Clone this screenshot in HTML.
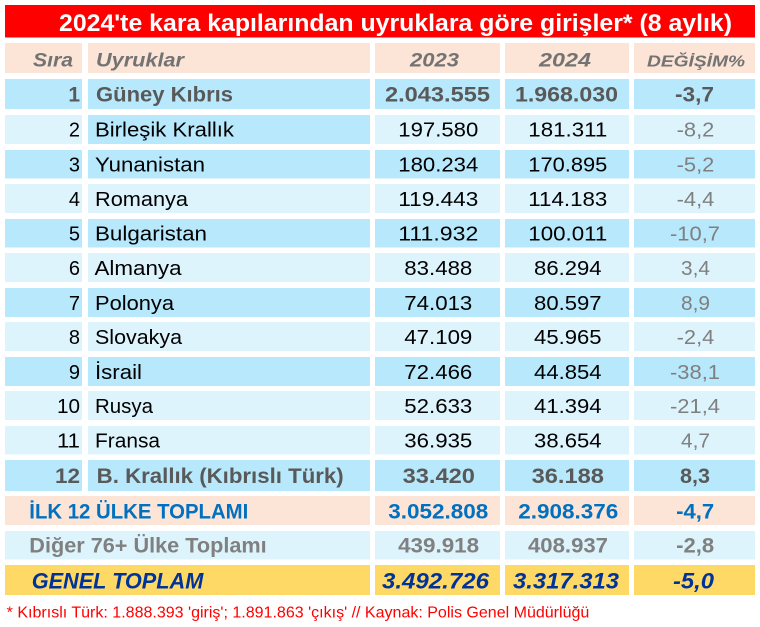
<!DOCTYPE html>
<html>
<head>
<meta charset="utf-8">
<style>
  html,body{margin:0;padding:0;background:#fff;}
  svg{display:block;}
  text{font-family:"Liberation Sans",Arial,sans-serif;}
</style>
</head>
<body>
<svg width="760" height="627" viewBox="0 0 760 627" xmlns="http://www.w3.org/2000/svg">
  <rect x="0" y="0" width="760" height="627" fill="#ffffff"/>
  <!-- Title -->
  <rect x="5" y="5" width="750" height="32.5" fill="#ff0000"/>
  <text x="395.5" y="31" font-size="24" font-weight="bold" fill="#ffffff" text-anchor="middle" textLength="673" lengthAdjust="spacingAndGlyphs">2024'te kara kapılarından uyruklara göre girişler* (8 aylık)</text>

  <!-- Header -->
  <g fill="#fce4d6">
    <rect x="5" y="43" width="77" height="30"/>
    <rect x="88" y="43" width="282" height="30"/>
    <rect x="375" y="43" width="125" height="30"/>
    <rect x="505" y="43" width="124" height="30"/>
    <rect x="634" y="43" width="121" height="30"/>
  </g>
  <g fill="#737373" font-weight="bold" font-style="italic">
    <text x="73" y="66.5" font-size="19.5" text-anchor="end" textLength="40" lengthAdjust="spacingAndGlyphs">Sıra</text>
    <text x="96" y="66.5" font-size="19.5" textLength="88" lengthAdjust="spacingAndGlyphs">Uyruklar</text>
    <text x="434.5" y="66.5" font-size="19.5" text-anchor="middle" textLength="49" lengthAdjust="spacingAndGlyphs">2023</text>
    <text x="565" y="66.5" font-size="19.5" text-anchor="middle" textLength="52" lengthAdjust="spacingAndGlyphs">2024</text>
    <text x="696" y="66.5" font-size="16" text-anchor="middle" textLength="98" lengthAdjust="spacingAndGlyphs">DEĞİŞİM%</text>
  </g>

  <!-- Row fills -->
  <!-- Row1 dark -->
  <g fill="#b7e8fb">
    <rect x="5" y="79" width="77" height="30"/><rect x="88" y="79" width="282" height="30"/><rect x="375" y="79" width="125" height="30"/><rect x="505" y="79" width="124" height="30"/><rect x="634" y="79" width="121" height="30"/>
  </g>
  <!-- Row2: c2 dark, others light -->
  <g fill="#ddf4fd">
    <rect x="5" y="115" width="77" height="29"/><rect x="375" y="115" width="125" height="29"/><rect x="505" y="115" width="124" height="29"/><rect x="634" y="115" width="121" height="29"/>
  </g>
  <rect x="88" y="115" width="282" height="29" fill="#b7e8fb"/>
  <!-- Row3 dark -->
  <g fill="#b7e8fb">
    <rect x="5" y="150" width="77" height="28.5"/><rect x="88" y="150" width="282" height="28.5"/><rect x="375" y="150" width="125" height="28.5"/><rect x="505" y="150" width="124" height="28.5"/><rect x="634" y="150" width="121" height="28.5"/>
  </g>
  <!-- Row4 light -->
  <g fill="#ddf4fd">
    <rect x="5" y="184" width="77" height="29"/><rect x="88" y="184" width="282" height="29"/><rect x="375" y="184" width="125" height="29"/><rect x="505" y="184" width="124" height="29"/><rect x="634" y="184" width="121" height="29"/>
  </g>
  <!-- Row5 dark -->
  <g fill="#b7e8fb">
    <rect x="5" y="219" width="77" height="28.5"/><rect x="88" y="219" width="282" height="28.5"/><rect x="375" y="219" width="125" height="28.5"/><rect x="505" y="219" width="124" height="28.5"/><rect x="634" y="219" width="121" height="28.5"/>
  </g>
  <!-- Row6 light -->
  <g fill="#ddf4fd">
    <rect x="5" y="253" width="77" height="29"/><rect x="88" y="253" width="282" height="29"/><rect x="375" y="253" width="125" height="29"/><rect x="505" y="253" width="124" height="29"/><rect x="634" y="253" width="121" height="29"/>
  </g>
  <!-- Row7 dark -->
  <g fill="#b7e8fb">
    <rect x="5" y="288" width="77" height="29"/><rect x="88" y="288" width="282" height="29"/><rect x="375" y="288" width="125" height="29"/><rect x="505" y="288" width="124" height="29"/><rect x="634" y="288" width="121" height="29"/>
  </g>
  <!-- Row8 light -->
  <g fill="#ddf4fd">
    <rect x="5" y="322" width="77" height="29"/><rect x="88" y="322" width="282" height="29"/><rect x="375" y="322" width="125" height="29"/><rect x="505" y="322" width="124" height="29"/><rect x="634" y="322" width="121" height="29"/>
  </g>
  <!-- Row9 dark -->
  <g fill="#b7e8fb">
    <rect x="5" y="357" width="77" height="29"/><rect x="88" y="357" width="282" height="29"/><rect x="375" y="357" width="125" height="29"/><rect x="505" y="357" width="124" height="29"/><rect x="634" y="357" width="121" height="29"/>
  </g>
  <!-- Row10 light -->
  <g fill="#ddf4fd">
    <rect x="5" y="391" width="77" height="29"/><rect x="88" y="391" width="282" height="29"/><rect x="375" y="391" width="125" height="29"/><rect x="505" y="391" width="124" height="29"/><rect x="634" y="391" width="121" height="29"/>
  </g>
  <!-- Row11 light -->
  <g fill="#ddf4fd">
    <rect x="5" y="426" width="77" height="28.5"/><rect x="88" y="426" width="282" height="28.5"/><rect x="375" y="426" width="125" height="28.5"/><rect x="505" y="426" width="124" height="28.5"/><rect x="634" y="426" width="121" height="28.5"/>
  </g>
  <!-- Row12 dark -->
  <g fill="#b7e8fb">
    <rect x="5" y="460" width="77" height="31"/><rect x="88" y="460" width="282" height="31"/><rect x="375" y="460" width="125" height="31"/><rect x="505" y="460" width="124" height="31"/><rect x="634" y="460" width="121" height="31"/>
  </g>
  <!-- ILK peach -->
  <g fill="#fce4d6">
    <rect x="5" y="496" width="365" height="29"/><rect x="375" y="496" width="125" height="29"/><rect x="505" y="496" width="124" height="29"/><rect x="634" y="496" width="121" height="29"/>
  </g>
  <!-- Diğer light -->
  <g fill="#ddf4fd">
    <rect x="5" y="531" width="365" height="28.5"/><rect x="375" y="531" width="125" height="28.5"/><rect x="505" y="531" width="124" height="28.5"/><rect x="634" y="531" width="121" height="28.5"/>
  </g>
  <!-- GENEL gold -->
  <g fill="#ffd966">
    <rect x="5" y="565" width="365" height="30"/><rect x="375" y="565" width="125" height="30"/><rect x="505" y="565" width="124" height="30"/><rect x="634" y="565" width="121" height="30"/>
  </g>

  <!-- Row 1 (bold gray) -->
  <g fill="#595959" font-weight="bold" font-size="21">
    <text x="80" y="101.5" text-anchor="end">1</text>
    <text x="96" y="101.5" textLength="137" lengthAdjust="spacingAndGlyphs">Güney Kıbrıs</text>
    <text x="437.5" y="101.5" text-anchor="middle" textLength="105" lengthAdjust="spacingAndGlyphs">2.043.555</text>
    <text x="566.5" y="101.5" text-anchor="middle" textLength="103" lengthAdjust="spacingAndGlyphs">1.968.030</text>
    <text x="694.5" y="101.5" text-anchor="middle" textLength="39" lengthAdjust="spacingAndGlyphs">-3,7</text>
  </g>

  <!-- Rows 2-11 normal -->
  <g fill="#000000" font-size="20">
    <text x="80" y="136.5" text-anchor="end">2</text>
    <text x="95" y="136.5" textLength="139" lengthAdjust="spacingAndGlyphs">Birleşik Krallık</text>
    <text x="438.3" y="136.5" text-anchor="middle" textLength="80" lengthAdjust="spacingAndGlyphs">197.580</text>
    <text x="567.8" y="136.5" text-anchor="middle" textLength="79" lengthAdjust="spacingAndGlyphs">181.311</text>

    <text x="80" y="171.5" text-anchor="end">3</text>
    <text x="95" y="171.5" textLength="110" lengthAdjust="spacingAndGlyphs">Yunanistan</text>
    <text x="438.3" y="171.5" text-anchor="middle" textLength="80" lengthAdjust="spacingAndGlyphs">180.234</text>
    <text x="567.8" y="171.5" text-anchor="middle" textLength="79" lengthAdjust="spacingAndGlyphs">170.895</text>

    <text x="80" y="206" text-anchor="end">4</text>
    <text x="95" y="206" textLength="93" lengthAdjust="spacingAndGlyphs">Romanya</text>
    <text x="438.3" y="206" text-anchor="middle" textLength="80" lengthAdjust="spacingAndGlyphs">119.443</text>
    <text x="567.8" y="206" text-anchor="middle" textLength="79" lengthAdjust="spacingAndGlyphs">114.183</text>

    <text x="80" y="240.5" text-anchor="end">5</text>
    <text x="95" y="240.5" textLength="112" lengthAdjust="spacingAndGlyphs">Bulgaristan</text>
    <text x="438.3" y="240.5" text-anchor="middle" textLength="80" lengthAdjust="spacingAndGlyphs">111.932</text>
    <text x="567.8" y="240.5" text-anchor="middle" textLength="79" lengthAdjust="spacingAndGlyphs">100.011</text>

    <text x="80" y="275" text-anchor="end">6</text>
    <text x="94.5" y="275" textLength="87" lengthAdjust="spacingAndGlyphs">Almanya</text>
    <text x="438.3" y="275" text-anchor="middle" textLength="68" lengthAdjust="spacingAndGlyphs">83.488</text>
    <text x="567.8" y="275" text-anchor="middle" textLength="67.5" lengthAdjust="spacingAndGlyphs">86.294</text>

    <text x="80" y="310" text-anchor="end">7</text>
    <text x="95" y="310" textLength="79" lengthAdjust="spacingAndGlyphs">Polonya</text>
    <text x="438.3" y="310" text-anchor="middle" textLength="68" lengthAdjust="spacingAndGlyphs">74.013</text>
    <text x="567.8" y="310" text-anchor="middle" textLength="67.5" lengthAdjust="spacingAndGlyphs">80.597</text>

    <text x="80" y="344" text-anchor="end">8</text>
    <text x="95" y="344" textLength="87" lengthAdjust="spacingAndGlyphs">Slovakya</text>
    <text x="438.3" y="344" text-anchor="middle" textLength="68" lengthAdjust="spacingAndGlyphs">47.109</text>
    <text x="567.8" y="344" text-anchor="middle" textLength="67.5" lengthAdjust="spacingAndGlyphs">45.965</text>

    <text x="80" y="379" text-anchor="end">9</text>
    <text x="95" y="379" textLength="47" lengthAdjust="spacingAndGlyphs">İsrail</text>
    <text x="438.3" y="379" text-anchor="middle" textLength="68" lengthAdjust="spacingAndGlyphs">72.466</text>
    <text x="567.8" y="379" text-anchor="middle" textLength="67.5" lengthAdjust="spacingAndGlyphs">44.854</text>

    <text x="80" y="413" text-anchor="end" textLength="23" lengthAdjust="spacingAndGlyphs">10</text>
    <text x="95" y="413" textLength="58" lengthAdjust="spacingAndGlyphs">Rusya</text>
    <text x="438.3" y="413" text-anchor="middle" textLength="68" lengthAdjust="spacingAndGlyphs">52.633</text>
    <text x="567.8" y="413" text-anchor="middle" textLength="67.5" lengthAdjust="spacingAndGlyphs">41.394</text>

    <text x="80" y="447.5" text-anchor="end" textLength="23" lengthAdjust="spacingAndGlyphs">11</text>
    <text x="95" y="447.5" textLength="65" lengthAdjust="spacingAndGlyphs">Fransa</text>
    <text x="438.3" y="447.5" text-anchor="middle" textLength="68" lengthAdjust="spacingAndGlyphs">36.935</text>
    <text x="567.8" y="447.5" text-anchor="middle" textLength="67.5" lengthAdjust="spacingAndGlyphs">38.654</text>
  </g>

  <!-- Change column rows 2-11 (gray) -->
  <g fill="#7f7f7f" font-size="20" text-anchor="middle">
    <text x="695.5" y="136.5" textLength="37.7" lengthAdjust="spacingAndGlyphs">-8,2</text>
    <text x="695.5" y="171.5" textLength="37.7" lengthAdjust="spacingAndGlyphs">-5,2</text>
    <text x="695.5" y="206" textLength="37.7" lengthAdjust="spacingAndGlyphs">-4,4</text>
    <text x="695" y="240.5" textLength="50" lengthAdjust="spacingAndGlyphs">-10,7</text>
    <text x="695.5" y="275" textLength="29" lengthAdjust="spacingAndGlyphs">3,4</text>
    <text x="695.5" y="310" textLength="29" lengthAdjust="spacingAndGlyphs">8,9</text>
    <text x="695.5" y="344" textLength="37.7" lengthAdjust="spacingAndGlyphs">-2,4</text>
    <text x="695" y="379" textLength="50" lengthAdjust="spacingAndGlyphs">-38,1</text>
    <text x="695" y="413" textLength="50" lengthAdjust="spacingAndGlyphs">-21,4</text>
    <text x="695.5" y="447.5" textLength="29" lengthAdjust="spacingAndGlyphs">4,7</text>
  </g>

  <!-- Row 12 (bold gray) -->
  <g fill="#595959" font-weight="bold" font-size="21">
    <text x="80" y="483" text-anchor="end" textLength="25" lengthAdjust="spacingAndGlyphs">12</text>
    <text x="96.7" y="483" textLength="247" lengthAdjust="spacingAndGlyphs">B. Krallık (Kıbrıslı Türk)</text>
    <text x="438.8" y="483" text-anchor="middle" textLength="72.3" lengthAdjust="spacingAndGlyphs">33.420</text>
    <text x="567.8" y="483" text-anchor="middle" textLength="72.3" lengthAdjust="spacingAndGlyphs">36.188</text>
    <text x="695" y="483" text-anchor="middle" textLength="30" lengthAdjust="spacingAndGlyphs">8,3</text>
  </g>

  <!-- ILK 12 -->
  <g fill="#0070c0" font-weight="bold" font-size="21">
    <text x="29.3" y="518.3" textLength="219" lengthAdjust="spacingAndGlyphs">İLK 12 ÜLKE TOPLAMI</text>
    <text x="438.3" y="518.3" text-anchor="middle" textLength="100" lengthAdjust="spacingAndGlyphs">3.052.808</text>
    <text x="568.3" y="518.3" text-anchor="middle" textLength="100" lengthAdjust="spacingAndGlyphs">2.908.376</text>
    <text x="695.2" y="518.3" text-anchor="middle" textLength="38" lengthAdjust="spacingAndGlyphs">-4,7</text>
  </g>

  <!-- Diğer -->
  <g fill="#808080" font-weight="bold" font-size="21">
    <text x="29.3" y="552.7" textLength="237.4" lengthAdjust="spacingAndGlyphs">Diğer 76+ Ülke Toplamı</text>
    <text x="438.6" y="552.7" text-anchor="middle" textLength="81" lengthAdjust="spacingAndGlyphs">439.918</text>
    <text x="568" y="552.7" text-anchor="middle" textLength="80" lengthAdjust="spacingAndGlyphs">408.937</text>
    <text x="695.2" y="552.7" text-anchor="middle" textLength="38" lengthAdjust="spacingAndGlyphs">-2,8</text>
  </g>

  <!-- GENEL TOPLAM -->
  <g fill="#003399" font-weight="bold" font-style="italic" font-size="22">
    <text x="31.7" y="588.3" textLength="171.6" lengthAdjust="spacingAndGlyphs">GENEL TOPLAM</text>
    <text x="435.5" y="588.3" text-anchor="middle" textLength="107" lengthAdjust="spacingAndGlyphs">3.492.726</text>
    <text x="566" y="588.3" text-anchor="middle" textLength="106" lengthAdjust="spacingAndGlyphs">3.317.313</text>
    <text x="693.5" y="588.3" text-anchor="middle" textLength="41" lengthAdjust="spacingAndGlyphs">-5,0</text>
  </g>

  <!-- Footer -->
  <text x="6.7" y="617.7" font-size="16" fill="#ff0000" textLength="582.6" lengthAdjust="spacingAndGlyphs">* Kıbrıslı Türk: 1.888.393 'giriş'; 1.891.863 'çıkış' // Kaynak: Polis Genel Müdürlüğü</text>
</svg>
</body>
</html>
